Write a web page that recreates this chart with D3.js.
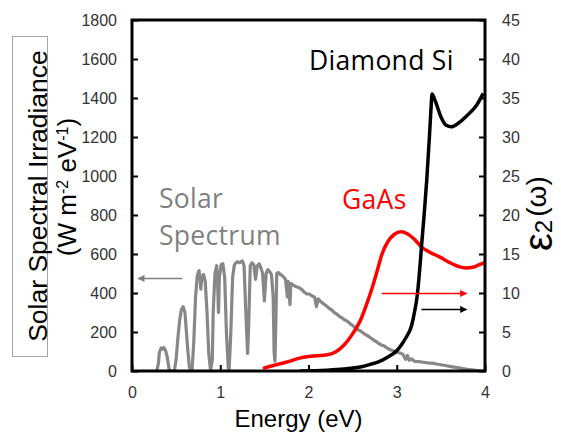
<!DOCTYPE html>
<html>
<head>
<meta charset="utf-8">
<script src="https://cdn.jsdelivr.net/npm/d3@7"></script>
<style>
  html, body { margin: 0; padding: 0; background: #fff; }
  svg { display: block; }
</style>
</head>
<body>
<svg id="chart" width="561" height="433"></svg>
<script>
// Solar spectral irradiance (energy in eV, W m^-2 eV^-1)
const solarEnergy = [
  0.28,0.30,0.31,0.33,0.35,0.36,0.38,0.40,0.42,0.44,
  0.48,0.50,0.52,0.54,0.56,0.58,0.60,0.61,0.63,0.65,0.67,
  0.68,0.70,0.72,0.74,0.76,0.77,0.78,0.79,0.81,0.83,0.85,0.87,0.89,
  0.91,0.92,0.94,0.96,0.97,0.98,0.99,1.01,1.03,1.05,1.07,1.09,1.10,
  1.12,1.14,1.16,1.19,1.22,1.25,1.27,1.29,1.31,1.32,1.34,1.36,1.38,1.40,1.42,1.44,1.46,1.48,1.50,1.52,1.54,1.56,1.58,1.60,1.61,1.62,1.63,1.64,1.66,1.68,1.70,1.72,1.74,1.76,1.77,1.79,1.80,1.83,1.86,1.89,1.92,1.95,1.98,2.01,2.04,2.07,2.09,2.11,2.14,2.17,2.20,2.23,2.26,2.29,2.32,2.35,2.38,2.41,2.44,2.47,2.50,2.53,2.56,2.59,2.62,2.65,2.68,2.71,2.74,2.77,2.80,2.83,2.86,2.89,2.92,2.95,2.98,3.01,3.04,3.07,3.10,3.12,3.14,3.17,3.20,3.25,3.30,3.35,3.40,3.45,3.50,3.55,3.60,3.65,3.70,3.75,3.80,3.85,3.90,3.95,4.00
];
const solarIrradiance = [
  0,40,95,118,112,120,105,70,10,0,
  0,60,170,260,315,330,300,240,120,20,0,
  0,150,380,490,515,480,420,470,495,460,300,90,0,
  60,300,500,540,450,300,480,545,550,480,200,20,0,
  200,480,545,560,555,565,540,300,90,200,540,555,545,470,540,550,530,500,360,500,520,510,495,380,100,50,250,500,505,495,490,480,470,380,460,340,450,440,432,428,420,405,395,395,385,378,330,370,355,345,335,322,315,300,292,280,272,262,255,243,233,222,212,205,195,185,178,168,158,150,140,132,128,118,110,105,100,95,92,85,60,80,55,62,50,48,45,42,40,36,32,28,24,20,16,12,9,6,3,1,0
];

// GaAs dielectric function, imaginary part
const gaasEnergy = [1.5,1.6,1.7,1.8,1.9,2.0,2.1,2.2,2.3,2.4,2.49,2.6,2.66,2.72,2.78,2.83,2.9,2.97,3.05,3.12,3.2,3.28,3.38,3.49,3.6,3.7,3.78,3.86,3.93,4.0];
const gaasEps2   = [0.4,0.7,1.0,1.3,1.65,1.85,1.95,2.05,2.4,3.3,4.6,6.8,8.6,10.6,12.9,14.9,16.6,17.5,17.85,17.6,16.9,15.9,15.2,14.6,13.9,13.4,13.2,13.3,13.6,13.9];

// Diamond Si dielectric function, imaginary part
const siEnergy = [1.9,2.2,2.4,2.6,2.7,2.8,2.9,3.0,3.05,3.1,3.17,3.2,3.23,3.26,3.28,3.31,3.34,3.37,3.39,3.40,3.44,3.5,3.56,3.62,3.7,3.8,3.9,3.98];
const siEps2   = [0,0.1,0.25,0.55,0.85,1.2,1.8,2.6,3.3,4.2,5.9,7.5,9.5,13,15.9,20,24.5,30,34,35.5,34.5,32.6,31.5,31.3,31.8,32.8,34,35.6];

// Axis ticks
const energyTicks = [0,1,2,3,4];
const irradianceTicks = [0,200,400,600,800,1000,1200,1400,1600,1800];
const eps2Ticks = [0,5,10,15,20,25,30,35,40,45];

const svg = d3.select("#chart");
const pL = 132, pR = 485, pT = 20, pB = 371;

const x = d3.scaleLinear().domain([0,4]).range([pL,pR]);
const yL = d3.scaleLinear().domain([0,1800]).range([pB,pT]);
const yR = d3.scaleLinear().domain([0,45]).range([pB,pT]);

const tickFont = "'Liberation Sans', Arial, sans-serif";
const labelFont = "'Open Sans', 'Noto Sans', sans-serif";

const defs = svg.append("defs");
defs.append("clipPath").attr("id","plotclip")
  .append("rect").attr("x",pL).attr("y",pT).attr("width",pR-pL).attr("height",pB-pT);

const plot = svg.append("g").attr("clip-path","url(#plotclip)");

// Solar spectrum
const solar = solarEnergy.map((e,i)=>[e, solarIrradiance[i]]);
plot.append("path")
  .attr("d", d3.line().x(d=>x(d[0])).y(d=>yL(d[1]))(solar))
  .attr("fill","none").attr("stroke","#878787").attr("stroke-width",3.2)
  .attr("stroke-linejoin","round").attr("stroke-linecap","round");

// GaAs
const gaas = gaasEnergy.map((e,i)=>[e, gaasEps2[i]]);
plot.append("path")
  .attr("d", d3.line().curve(d3.curveMonotoneX).x(d=>x(d[0])).y(d=>yR(d[1]))(gaas))
  .attr("fill","none").attr("stroke","#ff0000").attr("stroke-width",3.5)
  .attr("stroke-linecap","round");

// Diamond Si
const si = siEnergy.map((e,i)=>[e, siEps2[i]]);
plot.append("path")
  .attr("d", d3.line().curve(d3.curveMonotoneX).x(d=>x(d[0])).y(d=>yR(d[1]))(si))
  .attr("fill","none").attr("stroke","#000").attr("stroke-width",3.5)
  .attr("stroke-linejoin","round");

// Axes with inward ticks
function styleAxis(g){
  g.select(".domain").remove();
  g.selectAll(".tick line").attr("stroke","#000").attr("stroke-width",2);
  g.selectAll(".tick text").attr("fill","#333").style("font-family",tickFont).style("font-size","16px");
}
svg.append("g").attr("transform",`translate(0,${pB})`)
  .call(d3.axisBottom(x).tickValues(energyTicks).tickFormat(d3.format("d")).tickSizeInner(-6).tickPadding(16))
  .call(styleAxis);
svg.append("g").attr("transform",`translate(${pL},0)`)
  .call(d3.axisLeft(yL).tickValues(irradianceTicks).tickFormat(d3.format("d")).tickSizeInner(-6).tickPadding(15))
  .call(styleAxis);
svg.append("g").attr("transform",`translate(${pR},0)`)
  .call(d3.axisRight(yR).tickValues(eps2Ticks).tickFormat(d3.format("d")).tickSizeInner(-6).tickPadding(17))
  .call(styleAxis);

// Frame
svg.append("rect").attr("x",pL).attr("y",pT).attr("width",pR-pL).attr("height",pB-pT)
  .attr("fill","none").attr("stroke","#000").attr("stroke-width",3);

// Arrow markers
[["arrGray","#808080"],["arrRed","#ff0000"],["arrBlack","#000"]].forEach(([id,c])=>{
  defs.append("marker").attr("id",id).attr("viewBox","0 0 10 10").attr("refX",9).attr("refY",5)
    .attr("markerWidth",8).attr("markerHeight",7).attr("markerUnits","userSpaceOnUse").attr("orient","auto")
    .append("path").attr("d","M0,0 L10,5 L0,10 z").attr("fill",c);
});
svg.append("line").attr("x1",x(0.57)).attr("x2",x(0.07)).attr("y1",yL(475)).attr("y2",yL(475))
  .attr("stroke","#808080").attr("stroke-width",1.5).attr("marker-end","url(#arrGray)");
svg.append("line").attr("x1",x(2.83)).attr("x2",x(3.79)).attr("y1",yR(9.95)).attr("y2",yR(9.95))
  .attr("stroke","#ff0000").attr("stroke-width",1.5).attr("marker-end","url(#arrRed)");
svg.append("line").attr("x1",x(3.28)).attr("x2",x(3.79)).attr("y1",yR(7.9)).attr("y2",yR(7.9))
  .attr("stroke","#000").attr("stroke-width",1.5).attr("marker-end","url(#arrBlack)");

// Series labels
function seriesLabel(px, py, txt, color){
  svg.append("text").attr("x",px).attr("y",py).text(txt)
    .style("font-family",labelFont).style("font-size","26.5px").style("letter-spacing","0.3px")
    .attr("fill",color);
}
seriesLabel(309, 70, "Diamond Si", "#000");
seriesLabel(342, 209, "GaAs", "#ff0000");
seriesLabel(159, 208, "Solar", "#808080");
seriesLabel(159, 245, "Spectrum", "#808080");

// Axis titles
svg.append("text").attr("x",298.5).attr("y",427).attr("text-anchor","middle").text("Energy (eV)")
  .style("font-family",tickFont).style("font-size","24px").attr("fill","#000");

svg.append("rect").attr("x",12.5).attr("y",36.5).attr("width",35).attr("height",320)
  .attr("fill","none").attr("stroke","#a6a6a6").attr("stroke-width",1);
svg.append("text").attr("transform","translate(47,196) rotate(-90)").attr("text-anchor","middle")
  .text("Solar Spectral Irradiance")
  .style("font-family",tickFont).style("font-size","26.5px").attr("fill","#000");
const t2 = svg.append("text").attr("transform","translate(76,187) rotate(-90)").attr("text-anchor","middle")
  .style("font-family",tickFont).style("font-size","26px").attr("fill","#000");
t2.append("tspan").text("(W m");
t2.append("tspan").text("-2").attr("baseline-shift","super").style("font-size","16px");
t2.append("tspan").text(" eV");
t2.append("tspan").text("-1").attr("baseline-shift","super").style("font-size","16px");
t2.append("tspan").text(")");

// Right axis title: large epsilon with "2", then (omega) raised slightly
const t3 = svg.append("text").attr("transform","translate(552,251) rotate(-90)").attr("text-anchor","start")
  .style("font-family",tickFont).attr("fill","#000");
t3.append("tspan").text("ε").style("font-size","40px");
t3.append("tspan").text("2").style("font-size","24px");
t3.append("tspan").text("(ω)").attr("dx",3).attr("dy",-6).style("font-size","28px");
</script>
</body>
</html>
